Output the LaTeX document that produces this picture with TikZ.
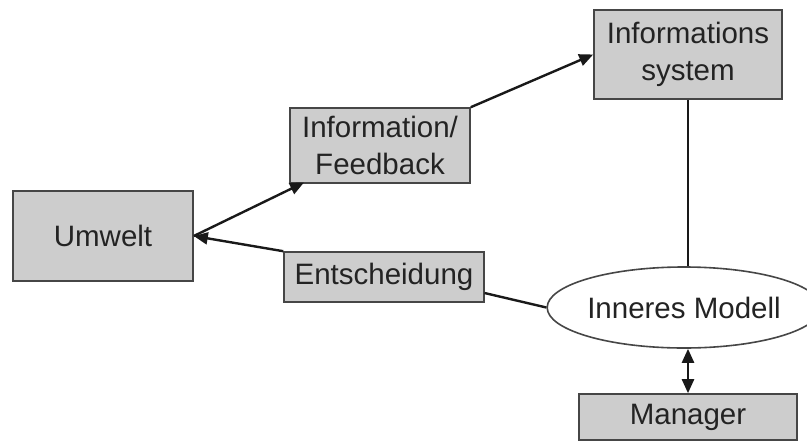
\documentclass[tikz,border=0pt]{standalone}
\usepackage{fontspec}
\setmainfont{Liberation Sans}
\usetikzlibrary{shapes.geometric,arrows.meta}
\definecolor{boxfill}{RGB}{205,205,205}
\definecolor{boxline}{RGB}{70,70,70}
\definecolor{txt}{RGB}{35,35,35}
\tikzset{
  box/.style={draw=boxline, line width=1.6pt, fill=boxfill, inner sep=0pt, align=center,
    text=txt, font=\fontsize{29.5}{36.5}\selectfont},
  conn/.style={line width=2.4pt, draw=black!90},
  tip/.style={-{Triangle[length=14pt,width=12pt]}},
}
\begin{document}
\begin{tikzpicture}[x=1pt,y=-1pt]
\useasboundingbox (0,0) rectangle (807,440);
\node[box, minimum width=180pt, minimum height=90pt] (umwelt) at (103,236) {Umwelt};
\node[box, minimum width=180pt, minimum height=75pt] (info) at (380,145.5) {Information/\\Feedback};
\node[box, minimum width=188pt, minimum height=89pt] (isys) at (688,54.5) {Informations\\system};
\node[box, minimum width=200pt, minimum height=50pt] (ent) at (384,277) {Entscheidung};
\node[draw=boxline, line width=1.6pt, fill=white, ellipse, minimum width=246pt, minimum height=81pt, inner sep=0pt,
  text=txt, font=\fontsize{29.5}{36.5}\selectfont] (modell) at (684,307.5) {Inneres Modell};
\node[box, minimum width=218pt, minimum height=46pt] (manager) at (688,417) {Manager};
\coordinate (infoin) at (304,182.5);
\draw[conn, tip] (umwelt.east) -- (infoin);
\draw[conn, tip] (info.north east) -- (isys.west);
\draw[conn, tip] (ent.north west) -- (umwelt.east);
\draw[conn] (isys.south) -- (modell.north -| isys.south);
\coordinate (entr) at (484.5,293);
\draw[conn] (entr) -- (modell.west);
\draw[conn, {Triangle[length=14pt,width=12pt]}-{Triangle[length=14pt,width=12pt]}] (modell.south -| manager.north) -- (manager.north);
\end{tikzpicture}
\end{document}
